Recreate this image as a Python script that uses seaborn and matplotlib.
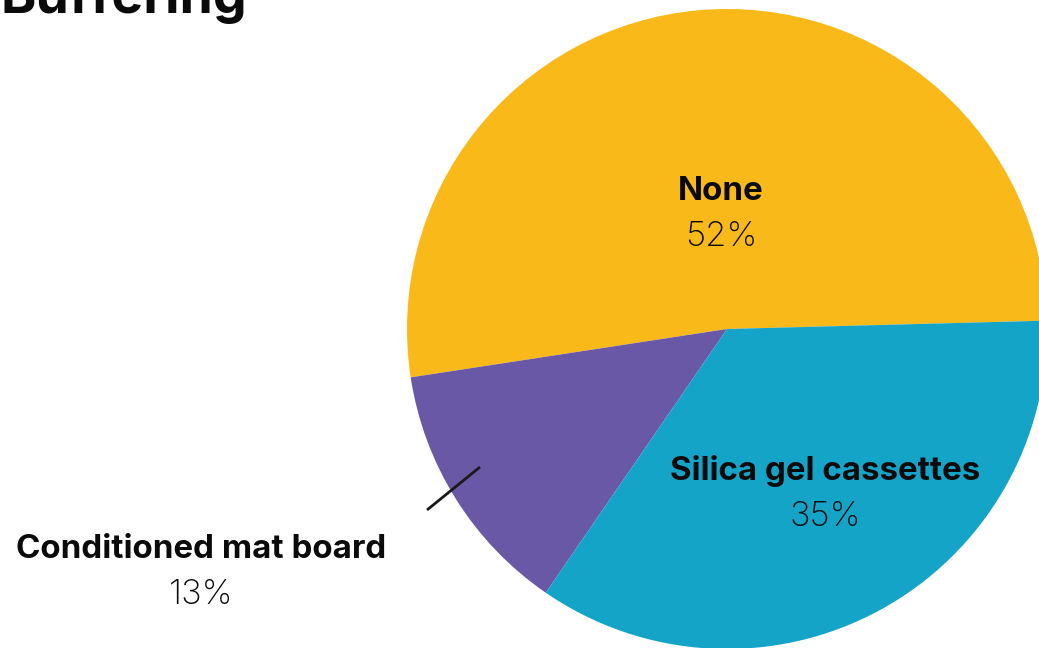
import matplotlib
matplotlib.use("Agg")
import matplotlib.pyplot as plt
import seaborn as sns

# Survey shares by buffering method
categories = ["None", "Conditioned mat board", "Silica gel cassettes"]
shares = [52, 13, 35]
colors = ["#F9B918", "#6858A6", "#14A4C8"]
title = "Buffering"

sns.set_theme(style="white")
plt.rcParams["font.family"] = ["Inter", "Liberation Sans", "DejaVu Sans"]

W, H = 1039, 648
fig = plt.figure(figsize=(W / 100, H / 100), dpi=100)
ax = fig.add_axes([0, 0, 1, 1])

palette = sns.color_palette(colors)
ax.pie(shares, colors=palette, startangle=1.5, counterclock=True,
       center=(727, H - 329), radius=320,
       wedgeprops=dict(linewidth=0), frame=True)
ax.set_xlim(0, W)
ax.set_ylim(0, H)
ax.set_aspect("equal")
ax.set_axis_off()

label_pos = {
    "None": (721, H - 191),
    "Silica gel cassettes": (825, H - 471),
    "Conditioned mat board": (201, H - 549),
}
for name, val in zip(categories, shares):
    x, y = label_pos[name]
    ax.text(x, y, name, ha="center", va="center", fontsize=23.8,
            fontweight="bold", color="#0a0a0a")
    ax.text(x, y - 46, f"{val}%", ha="center", va="center", fontsize=25,
            fontweight="light", color="#0a0a0a")

# leader line for the small slice
ax.plot([427, 480], [H - 510, H - 467], color="#1a1a1a", lw=2,
        solid_capstyle="butt")

fig.text(0.0, 1 - 13 / H, title, ha="left", va="baseline", fontsize=38.5,
         fontweight="bold", color="#0a0a0a")

fig.savefig("out.png", dpi=100)
